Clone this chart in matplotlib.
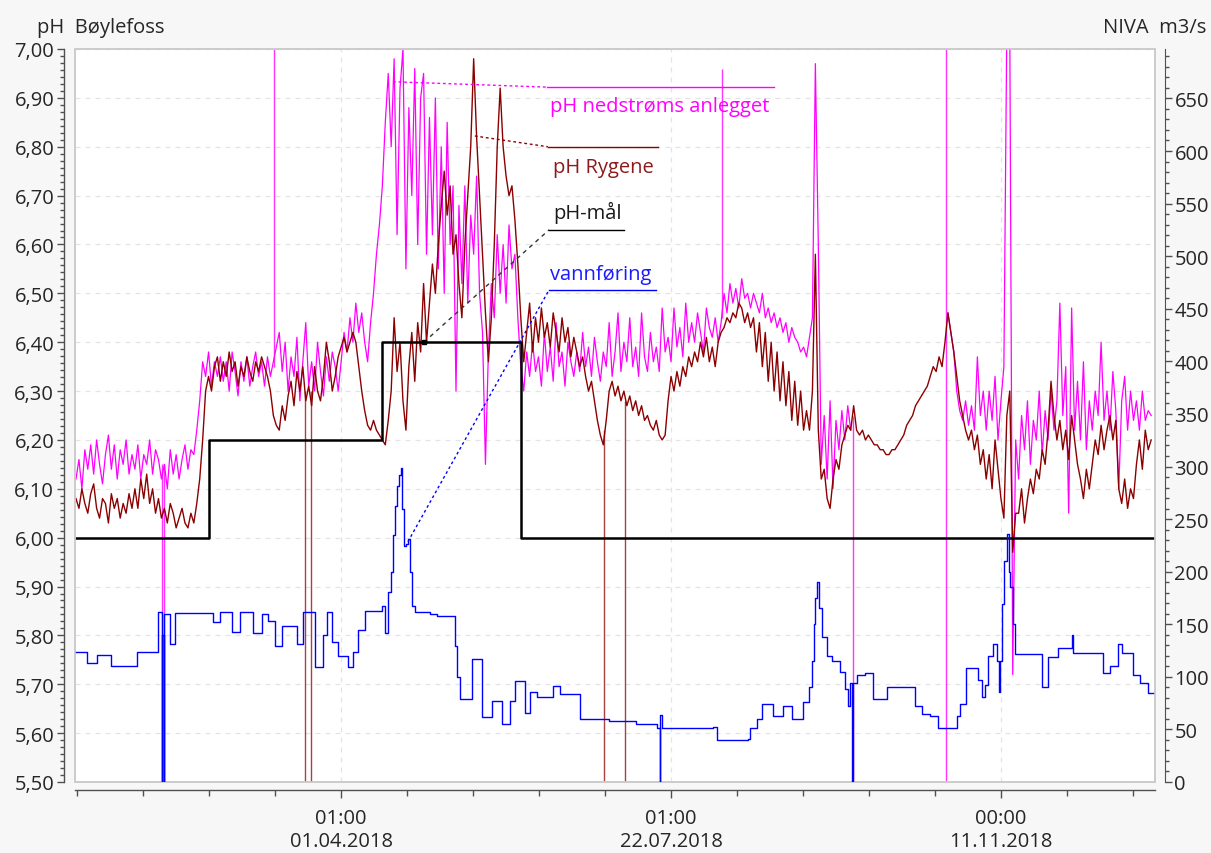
import numpy as np
import pandas as pd
import matplotlib
matplotlib.use("Agg")
import matplotlib.pyplot as plt
from matplotlib.ticker import MultipleLocator, FixedLocator, FuncFormatter, AutoMinorLocator
from matplotlib.patches import Rectangle

plt.rcParams['font.family'] = ['Open Sans', 'DejaVu Sans']

nan = np.nan
start = pd.Timestamp('2018-01-01')

# Daily pH downstream of the liming plant (nedstrøms anlegget)
ph_ned = [
    6.12, 6.16, 6.10, 6.18, 6.14, 6.19, 6.13, 6.20, 6.15, 6.11,
    6.17, 6.21, 6.14, 6.19, 6.12, 6.18, 6.15, 6.20, 6.13, 6.17,
    6.14, 6.19, 6.12, 6.17, 6.15, 6.20, 6.13, 6.18, 6.16, 6.12,
    6.15, 6.10, 6.18, 6.13, 6.17, 6.12, 6.16, 6.19, 6.14, 6.18,
    6.17, 6.22, 6.28, 6.36, 6.33, 6.38, 6.31, 6.36, 6.33, 6.37,
    6.32, 6.36, 6.30, 6.38, 6.34, 6.29, 6.36, 6.32, 6.37, 6.31,
    6.35, 6.38, 6.33, 6.36, 6.31, 6.37, 6.33, 6.36, 6.39, 6.42,
    6.34, 6.40, 6.30, 6.37, 6.33, 6.41, 6.28, 6.36, 6.44, 6.31,
    6.36, 6.30, 6.40, 6.34, 6.29, 6.37, 6.32, 6.38, 6.35, 6.30,
    6.36, 6.42, 6.38, 6.45, 6.40, 6.48, 6.42, 6.46, 6.40, 6.36,
    6.44, 6.50, 6.58, 6.64, 6.72, 6.85, 6.95, 6.80, 6.98, 6.62,
    6.92, 7.00, 6.55, 6.88, 6.70, 6.96, 6.60, 6.90, 6.95, 6.58,
    6.86, 6.62, 6.90, 6.55, 6.80, 6.50, 6.85, 6.60, 6.72, 6.30,
    6.68, 6.52, 6.72, 6.48, 6.66, 6.58, 6.74, 6.50, 6.42, 6.15,
    6.38, 6.52, 6.45, 6.62, 6.50, 6.60, 6.48, 6.64, 6.55, 6.58,
    6.45, 6.35, 6.30, 6.38, 6.33, 6.40, 6.34, 6.37, 6.31, 6.42,
    6.34, 6.39, 6.32, 6.44, 6.35, 6.38, 6.31, 6.40, 6.36, 6.33,
    6.38, 6.34, 6.42, 6.35, 6.39, 6.33, 6.41, 6.36, 6.32, 6.38,
    6.35, 6.44, 6.33, 6.38, 6.46, 6.34, 6.40, 6.36, 6.45, 6.35,
    6.39, 6.33, 6.46, 6.37, 6.34, 6.42, 6.36, 6.39, 6.34, 6.47,
    6.38, 6.41, 6.36, 6.47, 6.39, 6.43, 6.37, 6.48, 6.40, 6.44,
    6.40, 6.46, 6.42, 6.38, 6.47, 6.43, 6.41, 6.45, 6.40, 6.44,
    6.50, 6.46, 6.52, 6.48, 6.51, 6.47, 6.53, 6.49, 6.50, 6.47,
    6.50, 6.48, 6.46, 6.50, 6.45, 6.47, 6.44, 6.46, 6.43, 6.45,
    6.42, 6.44, 6.40, 6.43, 6.41, 6.40, 6.38, 6.39, 6.37, 6.41,
    6.45, 6.97, 6.60, 6.15, 6.25, 6.12, 6.28, 6.10, 6.24, 6.18,
    6.26, 6.20, 6.27, 6.22, nan, nan, nan, nan, nan, nan,
    nan, nan, nan, nan, nan, nan, nan, nan, nan, nan,
    nan, nan, nan, nan, nan, nan, nan, nan, nan, nan,
    nan, nan, nan, nan, nan, nan, 6.46, 6.42, 6.38, 6.30,
    6.26, 6.24, 6.28, 6.23, 6.27, 6.22, 6.37, 6.25, 6.30, 6.22,
    6.30, 6.24, 6.33, 6.20, 6.28, 6.35, 7.05, 7.05, 5.72, 6.20,
    6.12, 6.25, 6.18, 6.28, 6.15, 6.24, 6.20, 6.30, 6.17, 6.26,
    6.20, 6.30, 6.22, 6.28, 6.48, 6.25, 6.35, 6.05, 6.47, 6.22,
    6.32, 6.20, 6.36, 6.18, 6.28, 6.22, 6.30, 6.25, 6.40, 6.24,
    6.30, 6.22, 6.34, 6.26, 6.10, 6.28, 6.33, 6.22, 6.30, 6.24,
    6.28, 6.22, 6.30, 6.24, 6.26, 6.25,
]

# Daily pH at Rygene
ph_ryg = [
    6.08, 6.06, 6.10, 6.07, 6.05, 6.09, 6.11, 6.06, 6.04, 6.08,
    6.07, 6.03, 6.09, 6.06, 6.08, 6.04, 6.07, 6.05, 6.09, 6.06,
    6.10, 6.06, 6.12, 6.08, 6.13, 6.07, 6.10, 6.05, 6.08, 6.04,
    6.06, 6.03, 6.07, 6.05, 6.02, 6.04, 6.06, 6.03, 6.02, 6.05,
    6.03, 6.07, 6.12, 6.20, 6.30, 6.33, 6.30, 6.35, 6.37, 6.32,
    6.36, 6.33, 6.38, 6.34, 6.36, 6.31, 6.35, 6.33, 6.37, 6.34,
    6.32, 6.36, 6.34, 6.37, 6.35, 6.33, 6.30, 6.25, 6.23, 6.22,
    6.27, 6.24, 6.29, 6.32, 6.27, 6.34, 6.30, 6.35, 6.28, 6.31,
    6.27, 6.35, 6.30, 6.28, 6.33, 6.40, 6.36, 6.30, 6.33, 6.37,
    6.39, 6.41, 6.38, 6.40, 6.42, 6.40, 6.35, 6.30, 6.26, 6.23,
    6.22, 6.24, 6.22, 6.21, 6.20, 6.19, 6.24, 6.30, 6.45, 6.34,
    6.40, 6.28, 6.22, 6.35, 6.42, 6.32, 6.44, 6.38, 6.52, 6.40,
    6.48, 6.56, 6.50, 6.60, 6.68, 6.75, 6.66, 6.72, 6.58, 6.62,
    6.52, 6.45, 6.60, 6.70, 6.80, 6.98, 6.82, 6.70, 6.58, 6.46,
    6.36, 6.45, 6.60, 6.80, 6.92, 6.80, 6.74, 6.70, 6.72, 6.65,
    6.56, 6.45, 6.36, 6.42, 6.48, 6.38, 6.45, 6.40, 6.47, 6.41,
    6.44, 6.39, 6.46, 6.42, 6.38, 6.45, 6.40, 6.43, 6.37, 6.41,
    6.38, 6.35, 6.37, 6.33, 6.30, 6.32, 6.28, 6.24, 6.21, 6.19,
    6.24, 6.30, 6.32, 6.29, 6.31, 6.28, 6.30, 6.27, 6.29, 6.26,
    6.28, 6.25, 6.27, 6.24, 6.25, 6.23, 6.22, 6.24, 6.21, 6.20,
    6.21, 6.28, 6.33, 6.30, 6.34, 6.31, 6.35, 6.33, 6.37, 6.35,
    6.38, 6.36, 6.40, 6.37, 6.41, 6.36, 6.39, 6.35, 6.40, 6.42,
    6.43, 6.45, 6.44, 6.46, 6.45, 6.48, 6.47, 6.44, 6.46, 6.43,
    6.45, 6.38, 6.44, 6.35, 6.42, 6.32, 6.40, 6.30, 6.38, 6.28,
    6.36, 6.27, 6.34, 6.24, 6.32, 6.23, 6.30, 6.22, 6.26, 6.22,
    6.30, 6.58, 6.22, 6.12, 6.14, 6.08, 6.06, 6.12, 6.16, 6.14,
    6.19, 6.21, 6.23, 6.22, 6.27, 6.22, 6.21, 6.22, 6.20, 6.21,
    6.20, 6.19, 6.19, 6.18, 6.18, 6.17, 6.17, 6.18, 6.18, 6.19,
    6.20, 6.21, 6.23, 6.24, 6.25, 6.27, 6.28, 6.29, 6.30, 6.31,
    6.33, 6.35, 6.34, 6.37, 6.35, 6.40, 6.46, 6.42, 6.38, 6.33,
    6.28, 6.25, 6.22, 6.20, 6.22, 6.18, 6.21, 6.15, 6.18, 6.12,
    6.17, 6.10, 6.20, 6.14, 6.08, 6.04, 6.25, 6.30, 5.97, 6.05,
    6.05, 6.10, 6.03, 6.08, 6.12, 6.09, 6.14, 6.12, 6.18, 6.15,
    6.22, 6.32, 6.25, 6.20, 6.24, 6.18, 6.22, 6.16, 6.25, 6.20,
    6.15, 6.12, 6.08, 6.14, 6.10, 6.15, 6.20, 6.17, 6.23, 6.18,
    6.22, 6.25, 6.20, 6.24, 6.10, 6.07, 6.12, 6.06, 6.10, 6.08,
    6.15, 6.20, 6.14, 6.22, 6.18, 6.20,
]

days = pd.date_range(start, periods=len(ph_ned), freq='D')

# pH target (pH-mål), step function
goal_dates = pd.to_datetime(['2018-01-01', '2018-02-15', '2018-04-15', '2018-06-01', '2019-01-02'])
goal_ph = [6.0, 6.2, 6.4, 6.0, 6.0]

# Discharge (vannføring), m3/s, change points in days since 1 Jan 2018
flow_day = [
    0, 3.7, 7.1, 12.0, 20.7, 27.8, 29.2, 29.35, 29.8, 29.95,
    31.9, 33.6, 46.5, 48.9, 53.0, 55.7, 60.1, 63.1, 65.2, 67.5,
    69.9, 75.0, 77.1, 81.1, 83.8, 85.2, 86.9, 88.9, 92.3, 94.0,
    95.7, 98.1, 103.9, 104.9, 105.9, 106.8, 107.6, 108.3, 109.0, 109.7,
    110.3, 110.8, 111.4, 112.0, 112.7, 113.4, 114.1, 115.1, 120.2, 122.5,
    128.6, 129.5, 130.3, 134.4, 137.8, 141.2, 144.6, 147.3, 149.0, 152.4,
    154.1, 156.5, 161.9, 164.3, 171.1, 181.0, 190.0, 197.2, 198.1, 198.25,
    199.0, 216.2, 217.6, 228.1, 228.8, 231.2, 232.9, 236.6, 240.0, 243.0,
    246.8, 248.8, 249.8, 250.5, 251.0, 251.5, 252.2, 253.2, 254.9, 256.6,
    259.3, 261.0, 262.0, 262.7, 263.6, 263.75, 265.1, 267.8, 270.5, 275.3,
    284.8, 287.2, 289.9, 292.6, 299.0, 300.1, 302.1, 306.2, 307.5, 308.6,
    309.6, 311.3, 312.6, 313.3, 313.8, 314.5, 315.2, 316.0, 316.6, 317.0,
    318.1, 318.7, 327.9, 329.9, 333.3, 338.0, 338.4, 348.6, 351.0, 353.7,
    355.1, 358.8, 361.2, 363.9, 365.5,
]
flow_q = [
    124, 113, 121, 110, 124, 162, 0, 140, 0, 160,
    131, 161, 152, 162, 143, 162, 142, 160, 153, 129,
    148, 131, 162, 109, 140, 162, 133, 120, 109, 124,
    145, 163, 167, 142, 181, 200, 235, 262, 281, 292,
    299, 260, 224, 226, 231, 200, 167, 162, 160, 158,
    129, 100, 79, 117, 62, 77, 55, 77, 96, 66,
    86, 81, 91, 84, 60, 58, 55, 51, 0, 64,
    51, 52, 40, 41, 51, 60, 74, 63, 72, 60,
    76, 90, 115, 150, 175, 190, 165, 138, 120, 115,
    105, 88, 72, 94, 0, 94, 102, 104, 79, 90,
    72, 65, 63, 51, 63, 74, 108, 97, 81, 92,
    120, 131, 115, 86, 115, 169, 210, 236, 200, 185,
    150, 122, 90, 119, 127, 140, 123, 104, 110, 131,
    123, 102, 94, 85, 85,
]
flow_dates = start + pd.to_timedelta(flow_day, unit='D')

# single-sample spikes (vertical strokes)
ned_spike_day = [29.2, 29.8, 67.2, 219.3, 263.7, 295.3]
ned_spike_lo = [5.50, 5.50, 6.35, 6.45, 5.50, 5.50]
ned_spike_hi = [6.15, 6.15, 7.00, 6.96, 6.25, 7.00]
ryg_spike_day = [77.7, 79.8, 179.2, 186.4]
ryg_spike_lo = [5.50, 5.50, 5.50, 5.50]
ryg_spike_hi = [6.30, 6.30, 6.22, 6.28]

PINK = '#ff00ff'
RED = '#8b0000'
BLUE = '#0000ff'
TXT = '#262626'
AX = '#505050'
FS = 14.5


def d(x):
    return start + pd.Timedelta(days=x)


fig = plt.figure(figsize=(12.11, 8.54), dpi=100, facecolor='#f7f7f7')
ax = fig.add_axes([75 / 1211, 71 / 854, 1080 / 1211, 733 / 854])
ax.set_facecolor('white')

ax.plot(days, ph_ned, color=PINK, lw=0.9, zorder=2)
ax.vlines(start + pd.to_timedelta(ned_spike_day, unit='D'), ned_spike_lo, ned_spike_hi,
          color=PINK, lw=1.0, alpha=0.8, zorder=2)
ax.plot(days, ph_ryg, color=RED, lw=1.0, zorder=3)
ax.vlines(start + pd.to_timedelta(ryg_spike_day, unit='D'), ryg_spike_lo, ryg_spike_hi,
          color=RED, lw=1.0, alpha=0.75, zorder=3)
ax.step(goal_dates, goal_ph, where='post', color='black', lw=1.8, zorder=4)

ax.set_ylim(5.5, 7.0)
ax.set_xlim(d(-0.34), d(366.3))

# x axis ticks
major = [d(90), d(202), d(314)]
ax.xaxis.set_major_locator(FixedLocator([matplotlib.dates.date2num(t) for t in major]))
ax.set_xticklabels(['01:00\n01.04.2018', '01:00\n22.07.2018', '00:00\n11.11.2018'],
                   linespacing=1.55)
minor = [d(90 + 22.4 * k) for k in range(-4, 13) if k % 5 != 0]
ax.xaxis.set_minor_locator(FixedLocator([matplotlib.dates.date2num(t) for t in minor]))

ax.yaxis.set_major_locator(MultipleLocator(0.1))
ax.yaxis.set_minor_locator(AutoMinorLocator(7))
ax.yaxis.set_major_formatter(FuncFormatter(lambda v, p: f'{v:.2f}'.replace('.', ',')))

ax.grid(which='major', color='#e4e4e4', lw=0.9, ls=(0, (4, 4)), zorder=0)
ax.set_axisbelow(True)

for s in ['top', 'right']:
    ax.spines[s].set_visible(False)
ax.spines['left'].set_position(('outward', 8))
ax.spines['bottom'].set_position(('outward', 6))
for s in ['left', 'bottom']:
    ax.spines[s].set_color(AX)
    ax.spines[s].set_linewidth(1.0)
ax.tick_params(axis='both', which='both', colors=AX, labelcolor=TXT, labelsize=FS, width=1.0)
ax.tick_params(axis='y', which='major', length=5, pad=2)
ax.tick_params(axis='y', which='minor', length=3)
ax.tick_params(axis='x', which='major', length=6, pad=7)
ax.tick_params(axis='x', which='minor', length=4)

ax.add_patch(Rectangle((0, 0), 1, 1, transform=ax.transAxes, fill=False,
                       edgecolor='#c8c8c8', lw=1.3, clip_on=False, zorder=6))

# discharge on the right axis
ax2 = ax.twinx()
ax2.step(flow_dates, flow_q, where='post', color=BLUE, lw=1.0)
ax2.set_ylim(0, 697)
ax2.yaxis.set_major_locator(MultipleLocator(50))
ax2.yaxis.set_minor_locator(MultipleLocator(10))
for s in ['top', 'left', 'bottom']:
    ax2.spines[s].set_visible(False)
ax2.spines['right'].set_position(('outward', 7))
ax2.spines['right'].set_color(AX)
ax2.tick_params(axis='y', which='both', colors=AX, labelcolor=TXT, labelsize=FS, width=1.0)
ax2.tick_params(axis='y', which='major', length=5, pad=2)
ax2.tick_params(axis='y', which='minor', length=3)

# series labels with leader lines
ax.plot([d(107.6), d(159.9)], [6.933, 6.922], color=PINK, lw=1, ls=(0, (2, 2)), zorder=5)
ax.plot([d(159.9), d(236.9)], [6.922, 6.922], color=PINK, lw=1, zorder=5)
ax.text(d(160.9), 6.883, 'pH nedstrøms anlegget', color=PINK, fontsize=FS, va='center', zorder=5)

ax.plot([d(135.4), d(160.2)], [6.822, 6.800], color=RED, lw=1, ls=(0, (2, 2)), zorder=5)
ax.plot([d(160.2), d(197.6)], [6.800, 6.800], color=RED, lw=1, zorder=5)
ax.text(d(161.9), 6.759, 'pH Rygene', color='#8b1a1a', fontsize=FS, va='center', zorder=5)

ax.plot([d(118.1), d(160.6)], [6.40, 6.63], color='#333333', lw=1, ls=(0, (3, 3)), zorder=5)
ax.plot([d(118.1)], [6.40], marker='s', ms=3, color='black', zorder=5)
ax.plot([d(160.6), d(186.0)], [6.63, 6.63], color='black', lw=1, zorder=5)
ax.text(d(161.9), 6.667, 'pH-mål', color='#1a1a1a', fontsize=FS, va='center', zorder=5)

ax.plot([d(112.7), d(160.6)], [5.992, 6.507], color=BLUE, lw=1, ls=(0, (2, 2)), zorder=5)
ax.plot([d(160.6), d(196.9)], [6.507, 6.507], color=BLUE, lw=1, zorder=5)
ax.text(d(160.9), 6.540, 'vannføring', color='#1a1aff', fontsize=FS, va='center', zorder=5)

fig.text(37 / 1211, 1 - 28 / 854, 'pH  Bøylefoss', fontsize=FS, color=TXT, va='center')
fig.text(1206 / 1211, 1 - 28 / 854, 'NIVA  m3/s', fontsize=FS, color=TXT, va='center', ha='right')

fig.savefig('out.png', dpi=100, facecolor=fig.get_facecolor())
